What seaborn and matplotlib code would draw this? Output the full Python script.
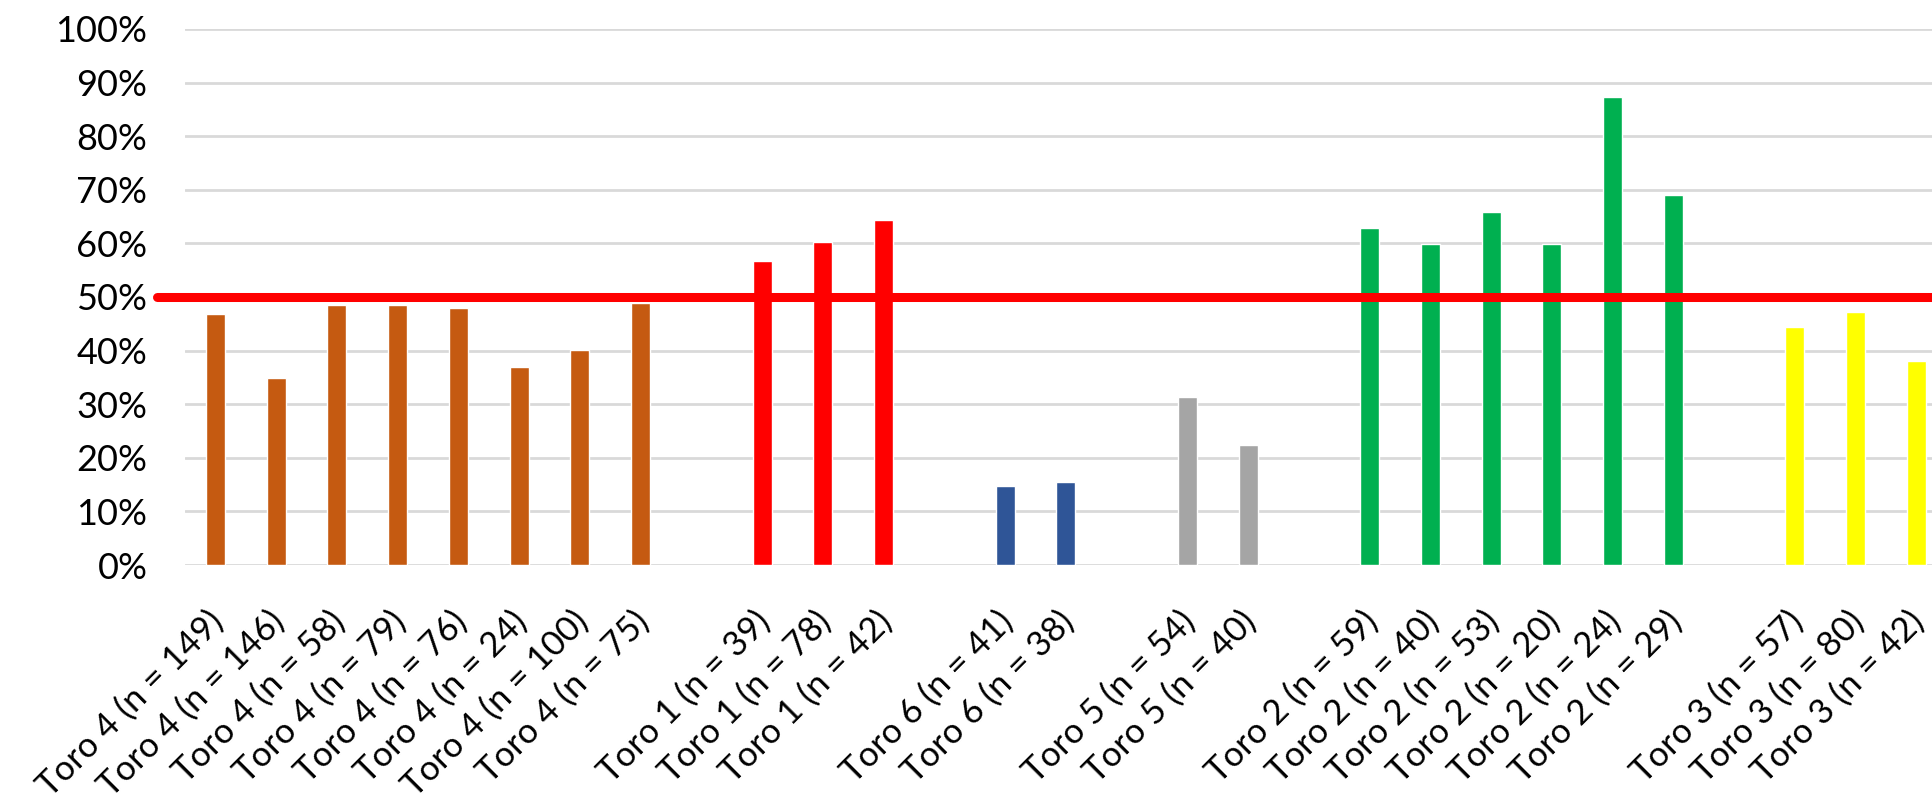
import matplotlib
matplotlib.use("Agg")
import matplotlib.pyplot as plt
import matplotlib.transforms as mtransforms
import seaborn as sns
import pandas as pd

# ---- data ----
groups = ["Toro 4", "Toro 1", "Toro 6", "Toro 5", "Toro 2", "Toro 3"]
group_n = [
    [149, 146, 58, 79, 76, 24, 100, 75],
    [39, 78, 42],
    [41, 38],
    [54, 40],
    [59, 40, 53, 20, 24, 29],
    [57, 80, 42],
]
group_values = [
    [0.469, 0.349, 0.485, 0.485, 0.480, 0.369, 0.402, 0.489],
    [0.568, 0.603, 0.643],
    [0.147, 0.155],
    [0.314, 0.223],
    [0.628, 0.599, 0.659, 0.599, 0.873, 0.691],
    [0.444, 0.472, 0.381],
]
group_colors = ["#C55A11", "#FF0000", "#2F5597", "#A5A5A5", "#00B050", "#FFFF00"]
threshold = 0.5
y_ticks = [0, 0.1, 0.2, 0.3, 0.4, 0.5, 0.6, 0.7, 0.8, 0.9, 1.0]

# ---- build table with one empty slot between groups ----
rows = []
order = []
tick_labels = []
for gi, (g, ns, vs) in enumerate(zip(groups, group_n, group_values)):
    if gi > 0:
        gap = f"gap{gi}"
        order.append(gap)
        tick_labels.append("")
    for n, v in zip(ns, vs):
        lab = f"{g} (n = {n})"
        rows.append({"label": lab, "value": v, "group": g})
        order.append(lab)
        tick_labels.append(lab)
df = pd.DataFrame(rows)

sns.set_theme(style="white")
plt.rcParams["font.family"] = ["Lato", "DejaVu Sans"]

W, H, DPI = 1933, 805, 100
fig = plt.figure(figsize=(W / DPI, H / DPI), dpi=DPI)
left_px, bottom_px, top_px = 185, 565, 29
ax = fig.add_axes([left_px / W, 1 - bottom_px / H,
                   1 - left_px / W, (bottom_px - top_px) / H])

sns.barplot(data=df, x="label", y="value", hue="group", order=order,
            hue_order=groups, palette=dict(zip(groups, group_colors)),
            width=0.315, dodge=False, legend=False, saturation=1,
            ax=ax, zorder=3)

n_slots = len(order)
slot_px = 60.75
ax.set_xlim(-0.5, -0.5 + (W - left_px) / slot_px)
ax.set_ylim(0, 1.0)
ax.set_yticks(y_ticks)
ax.set_yticklabels([f"{int(round(t * 100))}%" for t in y_ticks])
ax.yaxis.grid(True, color="#D9D9D9", linewidth=2.0, zorder=0)
ax.set_axisbelow(True)
for s in ax.spines.values():
    s.set_visible(False)

ax.axhline(threshold, xmin=-28 / (W - left_px), xmax=1, color="#FF0000",
           linewidth=6.5, clip_on=False, zorder=4)

ax.set_xlabel("")
ax.set_ylabel("")
ax.set_xticks(range(n_slots))
ax.set_xticklabels(tick_labels, rotation=45, ha="right", va="center",
                   rotation_mode="anchor")
ax.tick_params(axis="x", length=0, pad=37, labelsize=25, colors="#000000")
ax.tick_params(axis="y", length=0, pad=27, labelsize=26, colors="#000000")

offset = mtransforms.ScaledTranslation(3 / DPI, 0, fig.dpi_scale_trans)
for lbl in ax.get_xticklabels():
    lbl.set_transform(lbl.get_transform() + offset)

fig.savefig("out.png", dpi=DPI)
